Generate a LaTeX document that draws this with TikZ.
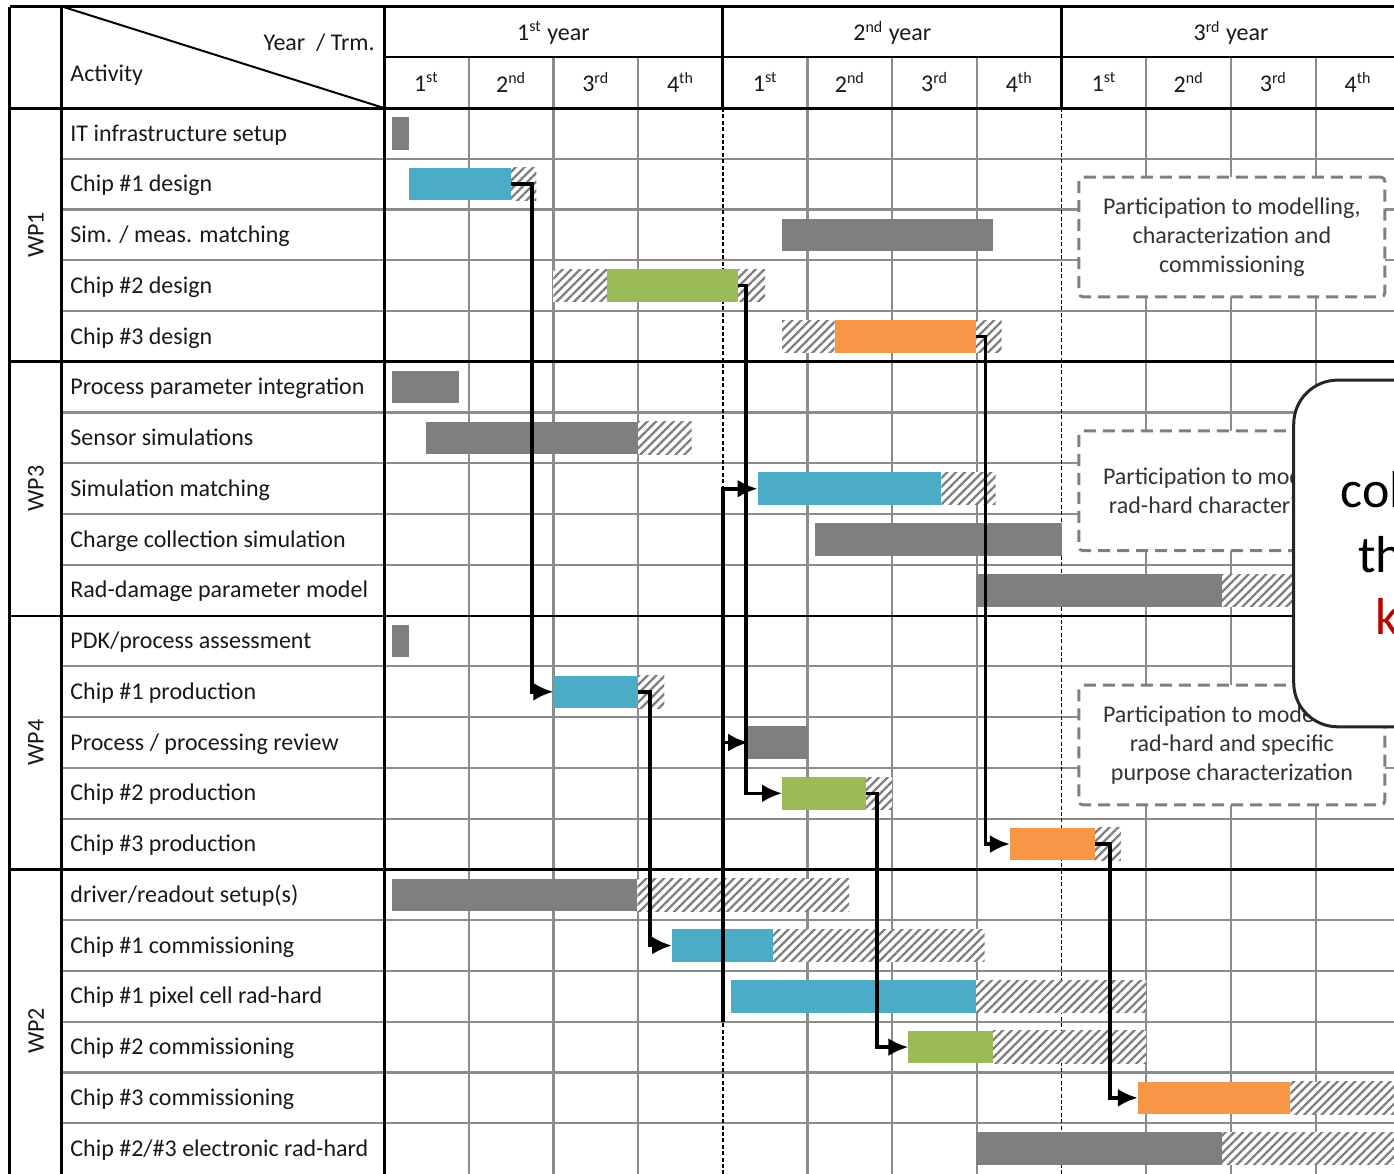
\documentclass[tikz,border=0pt]{standalone}
\usepackage{fontspec}
\setmainfont{Carlito}
\usepackage{tikz}
\usetikzlibrary{arrows.meta, patterns.meta, fit, positioning}
\definecolor{CHA}{HTML}{4BACC6}
\definecolor{CHB}{HTML}{9BBB59}
\definecolor{CHC}{HTML}{F79646}
\definecolor{GEN}{HTML}{7F7F7F}
\definecolor{KEY}{HTML}{C00000}
\tikzset{
  GEN/.style={% Style for generic activity bars
      rectangle, fill=GEN, draw=none,
      inner sep=0pt, outer sep=0pt,
  },
  CHA/.style={GEN, fill=CHA},% chip #1 bars
  CHB/.style={GEN, fill=CHB},% chip #2 bars
  CHC/.style={GEN, fill=CHC},% chip #3 bars
  slack/.style={% hatched margin round a bar
      preaction={fill=white},
      pattern={Lines[angle=45,distance=3.1pt,line width=1.15pt]},
      pattern color=GEN,
  },
  gridline/.style={draw=black!45, line width=1.1pt},
  frame/.style={draw=black, line width=1.5pt},
  groupline/.style={draw=black, line width=1.1pt},
  yearline/.style={draw=black, line width=.75pt, dash pattern=on 2pt off 1.2pt},
  dep/.style={-{Latex[length=10pt,width=9pt]}, line width=1.8pt},
  label/.style={anchor=base west, inner sep=0pt, text=black!90},
  head/.style={inner sep=0pt, text=black!90},
  note/.style={% Style for dashed remarks
      rectangle, draw=GEN, fill=white,
      line width=1.5pt, dash pattern=on 6pt off 3.5pt,
      rounded corners=2pt,
      minimum width=152.9pt, minimum height=59.9pt,
      align=center, text=black!80, inner sep=0pt,
  },
  callout/.style={rectangle, draw=black!85, fill=white, line width=1.5pt,
      rounded corners=22pt, inner sep=0pt, outer sep=0pt},
  calltext/.style={anchor=base west, inner sep=0pt,
      font=\fontsize{26}{31}\selectfont},
  every node/.append style={font=\fontsize{12}{14.5}\selectfont},
}
% bar of row #1, named #2, style #3, from #4 to #5 (quarters)
\def\gtask(#1)#2[#3]#4#5{%
  \coordinate (#2-a) at (#4,#1+.18);
  \coordinate (#2-b) at (#5,#1+.82);
  \node[#3, fit=(#2-a)(#2-b)] (#2) {};
}
% hatched pieces of row #1, list start/end
\def\slack(#1)#2{%
  \foreach \s/\e in {#2} {\fill[slack] (\s,#1+.18) rectangle (\e,#1+.82);}
}
\def\activities{IT infrastructure setup, Chip \#1 design, Sim. / meas. matching,
  Chip \#2 design, Chip \#3 design, Process parameter integration,
  Sensor simulations, Simulation matching, Charge collection simulation,
  Rad-damage parameter model, PDK/process assessment, Chip \#1 production,
  Process / processing review, Chip \#2 production, Chip \#3 production,
  driver/readout setup(s), Chip \#1 commissioning, Chip \#1 pixel cell rad-hard,
  Chip \#2 commissioning, Chip \#3 commissioning, Chip \#2/\#3 electronic rad-hard}

\begin{document}
\begin{tikzpicture}[x=42.35pt, y=-25.38pt]
  \useasboundingbox (-4.534,-2.128) rectangle (11.924,21);
  % grid
  \foreach \q in {1,2,3,5,6,7,9,10,11} \draw[gridline] (\q,-1) -- (\q,21);
  \foreach \r in {1,2,3,4,6,7,8,9,11,12,13,14,16,17,18,19,20}
    \draw[gridline] (-3.802,\r) -- (12,\r);
  \foreach \q in {4,8} {
    \draw[yearline] (\q,0) -- (\q,21);
    \draw[frame] (\q,-2) -- (\q,0);
  }
  % frame and header
  \draw[frame] (-4.416,-2) -- (12,-2);
  \draw[groupline] (0,-1) -- (12,-1);
  \draw[frame] (-4.416,0) -- (12,0);
  \draw[frame] (-4.416,5) -- (12,5);
  \foreach \r in {10,15} \draw[groupline] (-4.416,\r) -- (12,\r);
  \foreach \x in {-4.416,-3.802,0} \draw[frame] (\x,-2) -- (\x,21);
  \draw[line width=1pt] (-3.802,-2) -- (0,0);
  \node[head, anchor=east] (trm) at (-.106,-1.28) {Year~ / Trm.};
  \node[head, anchor=west] (act) at (-3.707,-.65) {Activity};
  \foreach \yr/\lab in {0/1\textsuperscript{st}, 1/2\textsuperscript{nd}, 2/3\textsuperscript{rd}} {
    \node[head] (year\yr) at (4*\yr+2,-1.48) {\lab\ year};
    \foreach \qq/\qt [count=\i from 0] in {1/st,2/nd,3/rd,4/th}
      \node[head] (q\yr\i) at (4*\yr+\i+.5,-.51) {\qq\textsuperscript{\qt}};
  }
  % work packages and activities
  \foreach \wp/\r in {WP1/2.5, WP3/7.5, WP4/12.5, WP2/18.18}
    \node[head, rotate=90] (\wp) at (-4.109,\r) {\wp};
  \foreach \act [count=\r from 0] in \activities
    \node[label] (act\r) at (-3.707,\r+.65) {\act};
  % bars
  \gtask(0){it}[GEN]{.09}{.30}
  \slack(1){1.50/1.80}
  \gtask(1){cd1}[CHA]{.30}{1.50}
  \gtask(2){simmeas}[GEN]{4.70}{7.19}
  \slack(3){2.00/2.63, 4.18/4.50}
  \gtask(3){cd2}[CHB]{2.63}{4.18}
  \slack(4){4.70/5.32, 6.99/7.29}
  \gtask(4){cd3}[CHC]{5.32}{6.99}
  \gtask(5){ppi}[GEN]{.09}{.89}
  \slack(6){3.00/3.63}
  \gtask(6){sensim}[GEN]{.50}{3.00}
  \slack(7){6.58/7.22}
  \gtask(7){simmatch}[CHA]{4.41}{6.58}
  \gtask(8){ccs}[GEN]{5.09}{8.00}
  \slack(9){9.89/11.20}
  \gtask(9){rdpm}[GEN]{6.99}{9.89}
  \gtask(10){pdk}[GEN]{.09}{.30}
  \slack(11){3.00/3.31}
  \gtask(11){cp1}[CHA]{2.00}{3.00}
  \gtask(12){review}[GEN]{4.30}{5.00}
  \slack(13){5.69/6.00}
  \gtask(13){cp2}[CHB]{4.70}{5.69}
  \slack(14){8.39/8.70}
  \gtask(14){cp3}[CHC]{7.39}{8.39}
  \slack(15){2.99/5.49}
  \gtask(15){driver}[GEN]{.09}{2.99}
  \slack(16){4.59/7.09}
  \gtask(16){cc1}[CHA]{3.40}{4.59}
  \slack(17){6.99/9.00}
  \gtask(17){pix1}[CHA]{4.10}{6.99}
  \slack(18){7.19/9.00}
  \gtask(18){cc2}[CHB]{6.19}{7.19}
  \slack(19){10.70/12.00}
  \gtask(19){cc3}[CHC]{8.90}{10.70}
  \slack(20){9.89/12.00}
  \gtask(20){elrad}[GEN]{6.99}{9.89}
  % dependencies
  \draw[dep] (cd1.east) -- ++(.25,0) |- (cp1.west);
  \draw[dep] (cd2.east) -- ++(.09,0) |- (cp2.west);
  \draw[dep] (cd3.east) -- ++(.11,0) |- (cp3.west);
  \draw[dep] (cp1.east) -- ++(.14,0) |- (cc1.west);
  \draw[dep] (cp2.east) -- ++(.13,0) |- (cc2.west);
  \draw[dep] (cp3.east) -- ++(.18,0) |- (cc3.west);
  \coordinate (yr2) at (4,18);
  \draw[dep] (yr2) |- (simmatch.west);
  \draw[dep] (yr2 |- review.west) -- (review.west);
  % remarks
  \node[note] (pmodel) at (10.01,2.54) {Participation to modelling,\\characterization and\\commissioning};
  \node[note] (prad) at (10.01,7.54) {Participation to modelling,\\rad-hard characterization};
  \node[note] (pspec) at (10.01,12.55) {Participation to modelling,\\rad-hard and specific\\purpose characterization};
  % call-out
  \coordinate (key-a) at (10.74,5.36);
  \coordinate (key-b) at (13.5,12.19);
  \node[callout, fit=(key-a)(key-b)] (key) {};
  \node[calltext] (key1) at (11.287,7.86) {col};
  \node[calltext] (key2) at (11.50,9.16) {th};
  \node[calltext, text=KEY] (key3) at (11.70,10.38) {k};
\end{tikzpicture}
\end{document}
